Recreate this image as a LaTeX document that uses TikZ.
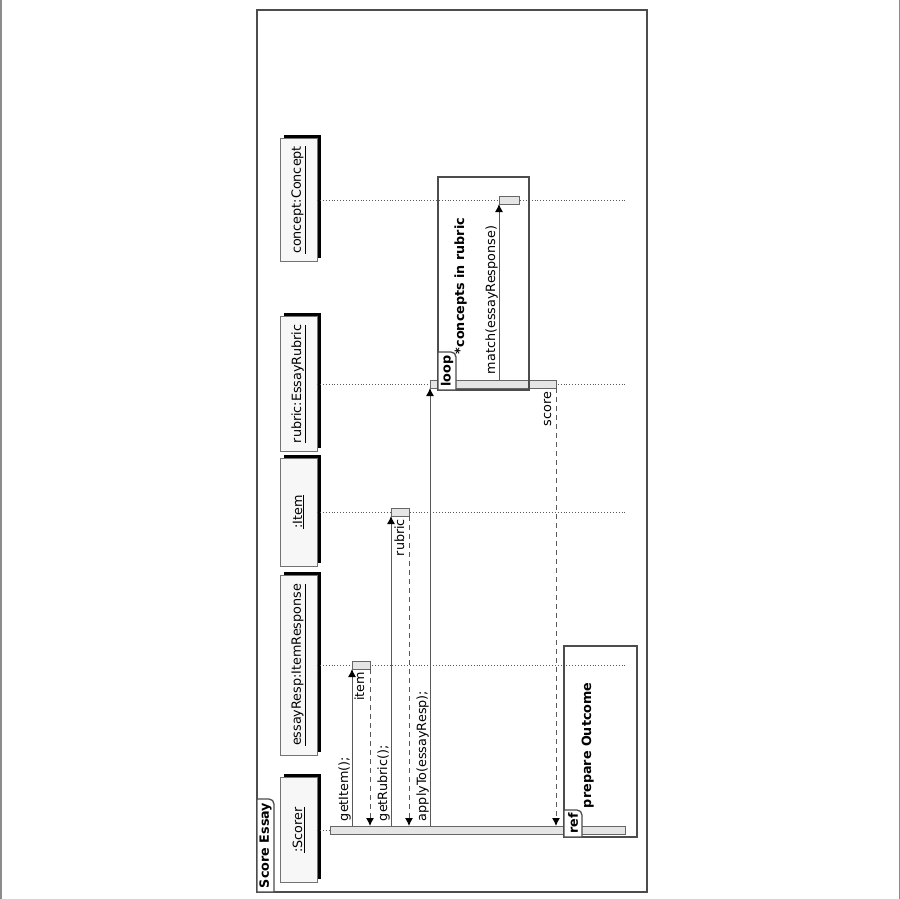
\documentclass[tikz,border=0pt]{standalone}
\usepackage{fontspec}
\setmainfont{DejaVu Sans}
\usepackage{graphicx}
\usetikzlibrary{arrows.meta,shadows}
\begin{document}
\begin{tikzpicture}[x=1pt,y=-1pt,
  font=\fontsize{12.75}{15}\selectfont,
  every node/.style={inner sep=0pt, outer sep=0pt},
  framebox/.style={draw=black!70, line width=1.3pt},
  tabbox/.style={draw=black!70, line width=1.3pt, fill=white},
  lifebox/.style={draw=black!55, line width=0.8pt, fill=black!3, minimum width=37pt,
    drop shadow={shadow xshift=3.5pt, shadow yshift=3.5pt, fill=black, opacity=1}},
  lifeline/.style={draw=black!65, line width=0.9pt, dotted},
  actbar/.style={draw=black!60, line width=0.8pt, fill=black!10},
  msg/.style={draw=black!65, line width=1pt, -{Latex[length=8pt,width=8pt,color=black]}},
  retmsg/.style={msg, dash pattern=on 5pt off 4pt},
  lbl/.style={rotate=90},
  framelbl/.style={rotate=90, font=\fontsize{12.75}{15}\selectfont\bfseries},
]
\useasboundingbox (0,0) rectangle (900,899);
% page edge lines
\draw[black!45, line width=1.5pt] (0.75,0) -- (0.75,899);
\draw[black!45, line width=1.5pt] (899.25,0) -- (899.25,899);

% outer frame
\node[framebox, minimum width=390pt, minimum height=882pt] (outer) at (452,451) {};
\draw[tabbox] (outer.south west) -- ++(0,-93) [rounded corners=5pt] -- ++(17,0) [sharp corners] -- ++(0,93) -- cycle;
\node[framelbl] (outerlbl) at (265.5,845.5) {Score Essay};

% lifeline heads
\node[lifebox, minimum height=105pt] (scorer) at (298.5,830) {\rotatebox{90}{\underline{:Scorer}}};
\node[lifebox, minimum height=180pt] (essay) at (298.5,665) {\rotatebox{90}{\underline{essayResp:ItemResponse}}};
\node[lifebox, minimum height=108pt] (item) at (298.5,512) {\rotatebox{90}{\underline{:Item}}};
\node[lifebox, minimum height=135pt] (rubric) at (298.5,384) {\rotatebox{90}{\underline{rubric:EssayRubric}}};
\node[lifebox, minimum height=123pt] (concept) at (298.5,200) {\rotatebox{90}{\underline{concept:Concept}}};

% lifeline ends
\coordinate (essayEnd) at (625,665);
\coordinate (itemEnd) at (625,512);
\coordinate (rubricEnd) at (625,384);
\coordinate (conceptEnd) at (625,200);

\draw[lifeline] (essay.east) -- (essayEnd);
\draw[lifeline] (item.east) -- (itemEnd);
\draw[lifeline] (rubric.east) -- (rubricEnd);
\draw[lifeline] (concept.east) -- (conceptEnd);

% activation bars
\node[actbar, minimum width=295pt, minimum height=8pt] (scorerAct) at (477.5,830) {};
\node[actbar, minimum width=18pt, minimum height=8pt] (essayAct) at (361,665) {};
\node[actbar, minimum width=18pt, minimum height=8pt] (itemAct) at (400,512) {};
\node[actbar, minimum width=126pt, minimum height=8pt] (rubricAct) at (493,384) {};
\node[actbar, minimum width=20pt, minimum height=8pt] (conceptAct) at (509,200) {};
\draw[lifeline] (scorer.east) -- (scorerAct.west);

% messages
\draw[msg] (essayAct.west |- scorerAct.north) -- (essayAct.south west);
\draw[retmsg] (essayAct.south east) -- (essayAct.east |- scorerAct.north);
\draw[msg] (itemAct.west |- scorerAct.north) -- (itemAct.south west);
\draw[retmsg] (itemAct.south east) -- (itemAct.east |- scorerAct.north);
\draw[msg] (rubricAct.west |- scorerAct.north) -- (rubricAct.south west);
\draw[msg] (conceptAct.west |- rubricAct.north) -- (conceptAct.south west);
\draw[retmsg] (rubricAct.south east) -- (rubricAct.east |- scorerAct.north);

% message labels
\node[lbl, anchor=base west] (lGetItem) at (348,821) {getItem();};
\node[lbl, anchor=base east] (lItem) at (364,672) {item};
\node[lbl, anchor=base west] (lGetRubric) at (387,821) {getRubric();};
\node[lbl, anchor=base east] (lRubric) at (404,519) {rubric};
\node[lbl, anchor=base west] (lApply) at (426,821) {applyTo(essayResp);};
\node[lbl, anchor=base west] (lMatch) at (495,374) {match(essayResponse)};
\node[lbl, anchor=base east] (lScore) at (551,392) {score};

% loop fragment
\node[framebox, minimum width=91pt, minimum height=213pt] (loopframe) at (483.5,283.5) {};
\draw[tabbox] (loopframe.south west) -- ++(0,-38) [rounded corners=5pt] -- ++(18,0) [sharp corners] -- ++(0,38) -- cycle;
\node[framelbl] (looplbl) at (447,371) {loop};
\node[framelbl, anchor=base west] (loopguard) at (464,354) {*concepts in rubric};

% ref fragment
\node[framebox, minimum width=73pt, minimum height=191pt] (refframe) at (600.5,741.5) {};
\draw[tabbox] (refframe.south west) -- ++(0,-27) [rounded corners=5pt] -- ++(18,0) [sharp corners] -- ++(0,27) -- cycle;
\node[framelbl] (reflbl) at (573,823.5) {ref};
\node[framelbl, anchor=base west] (refname) at (591,808) {prepare Outcome};
\end{tikzpicture}
\end{document}
